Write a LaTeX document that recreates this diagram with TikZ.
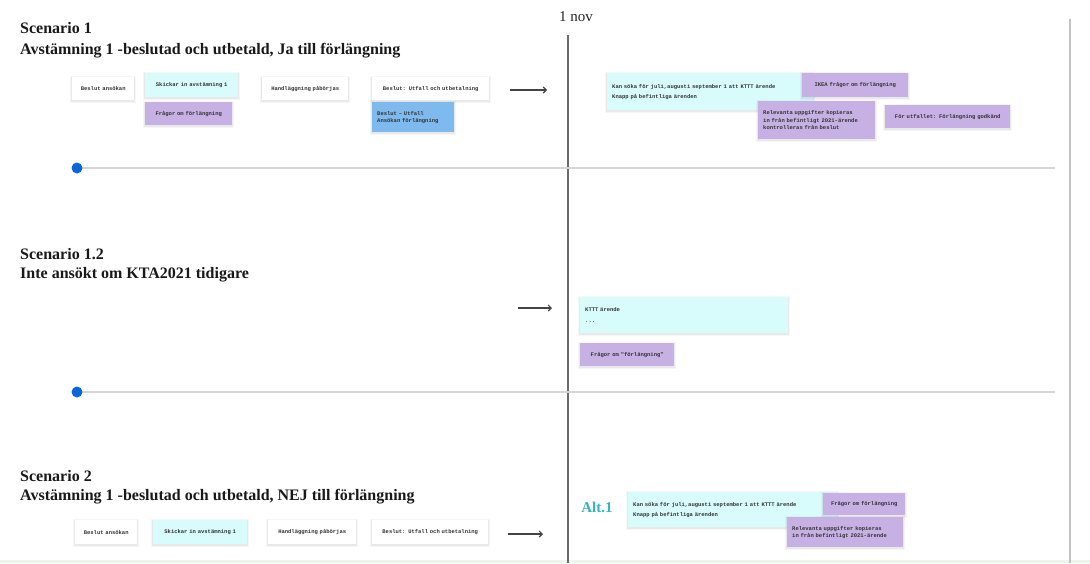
\documentclass[tikz,border=0pt]{standalone}
\usepackage{fontspec}
\setmainfont{Liberation Serif}
\newfontfamily\monof{Liberation Mono}
\usetikzlibrary{arrows.meta}
\definecolor{cyanbox}{HTML}{D8FBFC}
\definecolor{purplebox}{HTML}{C7B1E4}
\definecolor{bluebox}{HTML}{7EBAEE}
\definecolor{dotblue}{HTML}{0B67D8}
\definecolor{tlgray}{HTML}{D6D6D6}
\definecolor{vgray}{HTML}{6A6A6A}
\definecolor{rgray}{HTML}{C2C2C2}
\definecolor{altteal}{HTML}{33B5BD}
\definecolor{arrowgray}{HTML}{444444}
\definecolor{bottomgreen}{HTML}{EEF6EC}
\tikzset{
  softshadow/.style={
    preaction={draw=black, draw opacity=0.035, line width=4.5pt, transform canvas={yshift=-1pt}},
    preaction={draw=black, draw opacity=0.05, line width=2.5pt, transform canvas={yshift=-1pt}}},
  card/.style={anchor=north west, inner xsep=5pt, inner ysep=2pt,
    font=\monof\bfseries\fontsize{5.5}{7.3}\selectfont, text=black!80, softshadow},
  whitecard/.style={card, fill=white, align=center},
  cyancard/.style={card, fill=cyanbox, align=center},
  purplecard/.style={card, fill=purplebox, align=center},
  cyanleft/.style={card, fill=cyanbox, align=left},
  purpleleft/.style={card, fill=purplebox, align=left},
  blueleft/.style={card, fill=bluebox, align=left},
  title/.style={anchor=base west, inner sep=0pt, font=\bfseries\fontsize{16}{18}\selectfont, text=black!90},
  flow/.style={draw=arrowgray, line width=1.1pt, -{Straight Barb[length=3pt,width=6pt]}},
  timeline/.style={draw=tlgray, line width=2pt},
  tldot/.style={circle, fill=dotblue, inner sep=0pt, minimum size=11pt},
}
\newcommand\card[7]{%
  \pgfmathsetmacro\cardtw{#5-10}%
  \node[#1, minimum width=#5pt, minimum height=#6pt, text width=\cardtw pt] (#2) at (#3,#4) {#7};}
\begin{document}
\begin{tikzpicture}[x=1pt,y=-1pt]
\useasboundingbox (0,0) rectangle (1090,563);
\fill[white] (0,0) rectangle (1090,563);
\fill[bottomgreen] (0,560) rectangle (1090,563);

% vertical lines
\coordinate (novtop) at (568,35);
\coordinate (novbot) at (568,563);
\draw[vgray, line width=1.5pt] (novtop) -- (novbot);
\coordinate (rtop) at (1070,19);
\coordinate (rbot) at (1070,563);
\draw[rgray, line width=2pt] (rtop) -- (rbot);
\node[anchor=base, inner sep=0pt, font=\fontsize{15}{17}\selectfont, text=black!85] (nov) at (576,21) {1 nov};

% timelines
\coordinate (start1) at (77,168);
\coordinate (end1) at (1055,168);
\draw[timeline] (start1) -- (end1);
\node[tldot] (dot1) at (start1) {};
\coordinate (start2) at (77,392);
\coordinate (end2) at (1055,392);
\draw[timeline] (start2) -- (end2);
\node[tldot] (dot2) at (start2) {};

% titles
\node[title] (t1a) at (20,33) {Scenario 1};
\node[title] (t1b) at (20,54) {Avstämning 1 -beslutad och utbetald, Ja till förlängning};
\node[title] (t2a) at (20,259) {Scenario 1.2};
\node[title] (t2b) at (20,278) {Inte ansökt om KTA2021 tidigare};
\node[title] (t3a) at (20,481) {Scenario 2};
\node[title] (t3b) at (20,500) {Avstämning 1 -beslutad och utbetald, NEJ till förlängning};

% Scenario 1 left
\card{whitecard}{b1}{72}{77}{62}{23}{Beslut ansökan}
\card{cyancard}{s1}{145}{73}{93}{24}{Skickar in avstämning 1}
\card{purplecard}{f1}{145}{102}{87}{23}{Frågor om förlängning}
\card{whitecard}{h1}{262}{77}{86}{23}{Handläggning påbörjas}
\card{whitecard}{u1}{372}{77}{117}{23}{Beslut: Utfall och utbetalning}
\card{blueleft}{a1}{372}{102}{82}{30}{Beslut – Utfall\\Ansökan förlängning}
\coordinate (ar1s) at (510,90);
\coordinate (ar1e) at (547,90);
\draw[flow] (ar1s) -- (ar1e);

% Scenario 1 right
\card{cyanleft}{k1}{607}{73}{206}{37}{Kan söka för juli,augusti september 1 att KTTT ärende\\[2.5pt]Knapp på befintliga ärenden}
\card{purplecard}{i1}{802}{73}{106}{24}{IKEA frågor om förlängning}
\card{purpleleft}{r1}{758}{101}{117}{38}{Relevanta uppgifter kopieras\\in från befintligt 2021-ärende\\kontrolleras från beslut}
\card{purplecard}{g1}{885}{105}{125}{23}{För utfallet: Förlängning godkänd}

% Scenario 1.2
\coordinate (ar2s) at (518,308);
\coordinate (ar2e) at (552,308);
\draw[flow] (ar2s) -- (ar2e);
\card{cyanleft}{k2}{580}{297}{208}{36}{KTTT ärende\\[4pt]...}
\card{purplecard}{f2}{580}{343}{94}{23}{Frågor om "förlängning"}

% Scenario 2
\card{whitecard}{b2}{75}{520}{62}{24}{Beslut ansökan}
\card{cyancard}{s2}{153}{520}{94}{24}{Skickar in avstämning 1}
\card{whitecard}{h2}{268}{520}{88}{24}{Handläggning påbörjas}
\card{whitecard}{u2}{372}{520}{116}{24}{Beslut: Utfall och utbetalning}
\coordinate (ar3s) at (508,534);
\coordinate (ar3e) at (543,534);
\draw[flow] (ar3s) -- (ar3e);
\node[anchor=base, inner sep=0pt, font=\bfseries\fontsize{15}{17}\selectfont, text=altteal] (alt) at (597,512) {Alt.1};
\card{cyanleft}{k3}{628}{492}{209}{35}{Kan söka för juli,augusti september 1 att KTTT ärende\\[2.5pt]Knapp på befintliga ärenden}
\card{purplecard}{f3}{823}{493}{82}{22}{Frågor om förlängning}
\card{purpleleft}{r3}{787}{517}{116}{30}{Relevanta uppgifter kopieras\\in från befintligt 2021-ärende}
\end{tikzpicture}
\end{document}
